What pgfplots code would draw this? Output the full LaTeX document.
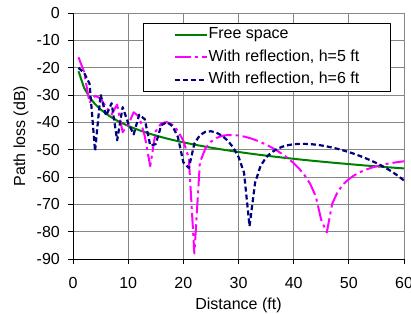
\documentclass[border=0pt]{standalone}
\usepackage{pgfplots}
\pgfplotsset{compat=1.18}
\usepackage{pgfplotstable}
\usepackage{fontspec}
\setmainfont{Liberation Sans}

\definecolor{fsgreen}{RGB}{0,128,0}
\definecolor{mag}{RGB}{255,0,255}
\definecolor{nav}{RGB}{0,0,128}
\definecolor{gridgray}{RGB}{134,134,134}

\pgfplotstableread{
d v
1 -21.30
2 -27.32
3 -30.84
4 -33.34
5 -35.28
6 -36.86
7 -38.20
8 -39.36
9 -40.38
10 -41.30
11 -42.13
12 -42.88
13 -43.58
14 -44.22
15 -44.82
16 -45.38
17 -45.91
18 -46.41
19 -46.88
20 -47.32
21 -47.74
22 -48.15
23 -48.53
24 -48.90
25 -49.26
26 -49.60
27 -49.93
28 -50.24
29 -50.55
30 -50.84
31 -51.13
32 -51.40
33 -51.67
34 -51.93
35 -52.18
36 -52.43
37 -52.66
38 -52.90
39 -53.12
40 -53.34
41 -53.56
42 -53.77
43 -53.97
44 -54.17
45 -54.36
46 -54.56
47 -54.74
48 -54.92
49 -55.10
50 -55.28
51 -55.45
52 -55.62
53 -55.79
54 -55.95
55 -56.11
56 -56.26
57 -56.42
58 -56.57
59 -56.72
60 -56.86
}\freespace

\pgfplotstableread{
d v
1 -16.20
2 -21.51
3 -32.84
4 -30.29
5 -31.24
6 -34.49
7 -37.09
8 -33.51
9 -43.59
10 -40.90
11 -36.32
12 -37.96
13 -44.95
14 -56.05
15 -43.26
16 -40.34
17 -39.90
18 -40.89
19 -43.09
20 -46.73
21 -53.20
22 -88.00
23 -54.65
24 -49.56
25 -47.09
26 -45.72
27 -44.98
28 -44.65
29 -44.63
30 -44.82
31 -45.21
32 -45.74
33 -46.42
34 -47.22
35 -48.14
36 -49.19
37 -50.36
38 -51.70
39 -53.21
40 -54.93
41 -56.96
42 -59.41
43 -62.55
44 -67.07
45 -75.72
46 -80.30
47 -69.69
48 -65.30
49 -62.63
50 -60.76
51 -59.35
52 -58.26
53 -57.39
54 -56.67
55 -56.08
56 -55.57
57 -55.16
58 -54.81
59 -54.51
60 -54.25
}\hfive

\pgfplotstableread{
d v
1 -20.07
2 -21.86
3 -25.84
4 -50.50
5 -29.82
6 -37.59
7 -33.00
8 -46.56
9 -34.43
10 -40.29
11 -44.40
12 -37.21
13 -38.83
14 -48.49
15 -47.96
16 -41.07
17 -39.90
18 -41.32
19 -45.25
20 -54.63
21 -56.65
22 -47.78
23 -44.70
24 -43.47
25 -43.26
26 -43.77
27 -44.89
28 -46.61
29 -49.07
30 -52.60
31 -58.37
32 -78.00
33 -62.13
34 -55.94
35 -52.84
36 -50.96
37 -49.70
38 -48.88
39 -48.34
40 -48.02
41 -47.88
42 -47.87
43 -47.96
44 -48.16
45 -48.44
46 -48.81
47 -49.23
48 -49.72
49 -50.27
50 -50.89
51 -51.56
52 -52.29
53 -53.10
54 -53.96
55 -54.90
56 -55.93
57 -57.06
58 -58.30
59 -59.70
60 -61.29
}\hsix

\begin{document}
\begin{tikzpicture}[font=\fontsize{16bp}{19bp}\selectfont]
\begin{axis}[name=ax,
  scale only axis, width=331bp, height=246bp,
  xmin=0, xmax=60, ymin=-90, ymax=0,
  xtick={0,10,...,60}, ytick={-90,-80,...,0},
  axis lines=left, axis line style={-, black, line width=0.9bp},
  grid=major, major grid style={draw=gridgray, line width=0.8bp},
  tick align=outside, major tick length=5bp,
  tick style={black, line width=0.8bp},
  /pgf/number format/assume math mode=true,
  xticklabel style={inner sep=0pt, yshift=-13bp},
  yticklabel style={inner sep=0pt, xshift=-8bp},
  xlabel={Distance (ft)}, ylabel={Path loss (dB)},
  xlabel style={at={(axis description cs:0.5,-0.2053)}, anchor=base},
  ylabel style={at={(axis description cs:-0.145,0.5)}, anchor=base},
  legend cell align=left,
  legend style={at={(axis description cs:0.2115,0.959)}, anchor=north west,
    draw=black, line width=0.8bp, fill=white,
    inner xsep=30bp, inner ysep=3.5bp, row sep=6.5bp,
    nodes={inner xsep=1bp, inner ysep=0pt, text height=12bp, text depth=4bp}},
  legend image code/.code={\draw[#1] (0bp,0bp) -- (32bp,0bp);},
  line join=round,
]
\addplot[fsgreen, line width=2bp, no marks] table[x=d, y=v] {\freespace};
\addlegendentry{Free space}
\addplot[mag, line width=2bp, no marks, dash pattern=on 16bp off 4bp on 3bp off 4bp] table[x=d, y=v] {\hfive};
\addlegendentry{With reflection, h=5 ft}
\addplot[nav, line width=2.2bp, no marks, dash pattern=on 5bp off 3bp] table[x=d, y=v] {\hsix};
\addlegendentry{With reflection, h=6 ft}
\end{axis}
\pgfresetboundingbox
\path[use as bounding box] ([shift={(-73bp,-54bp)}]ax.south west) rectangle ([shift={(7bp,13bp)}]ax.north east);
\end{tikzpicture}
\end{document}
